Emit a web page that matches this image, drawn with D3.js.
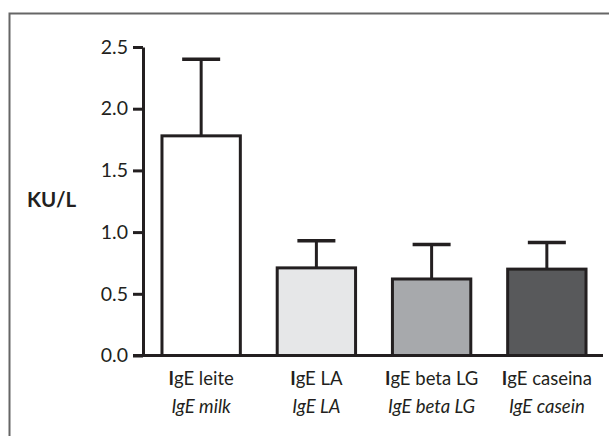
<!DOCTYPE html>
<html><head><meta charset="utf-8">
<script src="https://cdn.jsdelivr.net/npm/d3@7"></script>
<style>body{margin:0;background:#fff}svg{display:block}text{font-family:"Lato","Open Sans",sans-serif;fill:#231f20}</style>
</head><body><svg id="c" width="609" height="436"></svg>
<script>
const categories = ["IgE leite","IgE LA","IgE beta LG","IgE caseina"];
const categoriesEn = ["IgE milk","IgE LA","IgE beta LG","IgE casein"];
const means = [1.78, 0.71, 0.62, 0.70];
const errors = [0.62, 0.22, 0.28, 0.215];
const fills = ["#ffffff","#e6e7e8","#a7a9ac","#58595b"];
const yTicks = [0, 0.5, 1.0, 1.5, 2.0, 2.5];

const svg = d3.select("#c");
// frame
svg.append("path").attr("d","M9.5,436 V13.5 H609").attr("fill","none").attr("stroke","#666").attr("stroke-width",2);

const y = d3.scaleLinear().domain([0,2.5]).range([355.5,47]);
const x = d3.scaleBand().domain(categories).range([147,601]).paddingInner(0.32).paddingOuter(0.13);

// bars
const g = svg.append("g");
categories.forEach((c,i)=>{
  const cx = x(c)+x.bandwidth()/2;
  g.append("line").attr("x1",cx).attr("x2",cx).attr("y1",y(means[i])).attr("y2",y(means[i]+errors[i])).attr("stroke","#231f20").attr("stroke-width",3);
  g.append("line").attr("x1",cx-19).attr("x2",cx+19).attr("y1",y(means[i]+errors[i])).attr("y2",y(means[i]+errors[i])).attr("stroke","#231f20").attr("stroke-width",3.5);
  g.append("rect").attr("x",x(c)).attr("y",y(means[i])).attr("width",x.bandwidth()).attr("height",y(0)-y(means[i]))
    .attr("fill",fills[i]).attr("stroke","#231f20").attr("stroke-width",3);
});

// y axis
const ya = svg.append("g").attr("transform","translate(143,0)")
  .call(d3.axisLeft(y).tickValues(yTicks).tickFormat(d3.format(".1f")).tickSize(10).tickSizeOuter(0));
ya.select(".domain").attr("stroke","#231f20").attr("stroke-width",3);
ya.selectAll(".tick line").attr("stroke","#231f20").attr("stroke-width",3);
ya.selectAll(".tick text").attr("font-size",19.5).attr("x",-15).style("font-family","Lato, sans-serif").attr("fill","#231f20");

// x axis baseline
svg.append("line").attr("x1",133).attr("x2",603).attr("y1",y(0)).attr("y2",y(0)).attr("stroke","#231f20").attr("stroke-width",3);

// x labels
categories.forEach((c,i)=>{
  const cx = x(c)+x.bandwidth()/2;
  const t = svg.append("text").attr("x",cx).attr("y",385).attr("text-anchor","middle").attr("font-size",18.5);
  t.append("tspan").attr("font-weight","bold").text(c.slice(0,1));
  t.append("tspan").text(c.slice(1));
  svg.append("text").attr("x",cx).attr("y",412.5).attr("text-anchor","middle").attr("font-size",18.5).attr("font-style","italic").text(categoriesEn[i]);
});

// y label
svg.append("text").attr("x",27).attr("y",207).attr("font-size",20.5).attr("font-weight","bold").text("KU/L");
</script></body></html>
